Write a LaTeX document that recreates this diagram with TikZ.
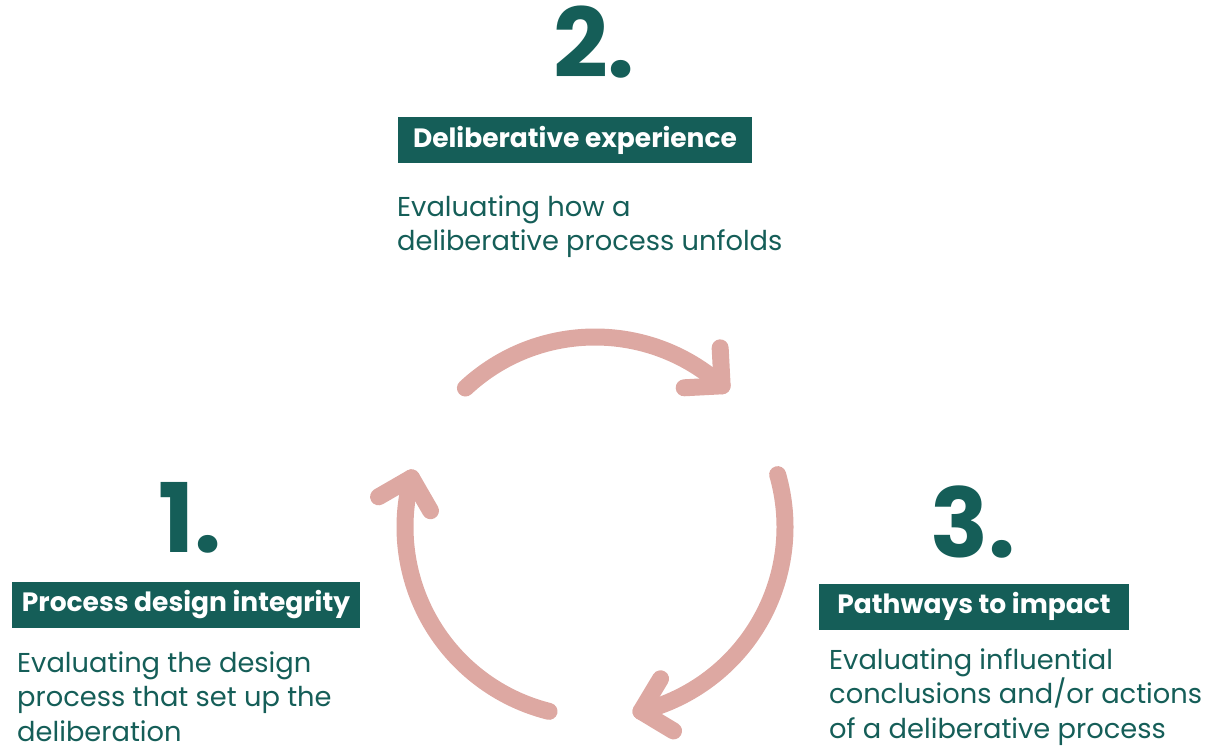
\documentclass[tikz,border=0pt]{standalone}
\usepackage{fontspec}
\setmainfont{Poppins}
\usetikzlibrary{calc}
\definecolor{dteal}{HTML}{155E58}
\definecolor{apink}{HTML}{DDA8A2}
\begin{document}
\begin{tikzpicture}[x=1pt,y=1pt,
  num/.style={font=\fontsize{96}{96}\selectfont\bfseries, text=dteal, anchor=base, inner sep=0pt},
  lbl/.style={fill=dteal, text=white, font=\fontsize{26.5}{30}\selectfont\bfseries, inner sep=0pt, minimum height=46pt},
  desc/.style={text=dteal, font=\fontsize{27.3}{34.5}\selectfont, align=left, anchor=base west, inner sep=0pt},
  cyc/.style={draw=apink, line width=17pt, line cap=round, line join=round}]
\useasboundingbox (0,0) rectangle (1207,750);
% step 2
\node[num] (n2) at (594,672) {2.};
\node[lbl, minimum width=354pt] (l2) at (575,610) {Deliberative experience};
\node[desc] (d2) at (397,499) {Evaluating how a\\deliberative process unfolds};
% step 1
\node[num] (n1) at (190,197) {1.};
\node[lbl, minimum width=348pt] (l1) at (186,145.5) {Process design integrity};
\node[desc] (d1) at (17,9) {Evaluating the design\\process that set up the\\deliberation};
% step 3
\node[num] (n3) at (973,192) {3.};
\node[lbl, minimum width=310pt] (l3) at (974,143.5) {Pathways to impact};
\node[desc] (d3) at (829,12) {Evaluating influential\\conclusions and/or actions\\of a deliberative process};
% cycle arrows
\coordinate (c) at (595,223);
\def\R{190}
\def\L{38}
\coordinate (as) at ($(c)+(133:\R)$);
\coordinate (ae) at ($(c)+(48:\R)$);
\coordinate (bs) at ($(c)+(16:\R)$);
\coordinate (be) at ($(c)+(-76:\R)$);
\coordinate (cs) at ($(c)+(256:\R)$);
\coordinate (ce) at ($(c)+(165:\R)$);
\draw[cyc] (as) arc[start angle=133, end angle=48, radius=\R];
\draw[cyc] ($(ae)+(93:\L)$) -- (ae) -- ($(ae)+(183:\L)$);
\draw[cyc] (bs) arc[start angle=16, end angle=-76, radius=\R];
\draw[cyc] ($(be)+(-31:\L)$) -- (be) -- ($(be)+(59:\L)$);
\draw[cyc] (cs) arc[start angle=256, end angle=165, radius=\R];
\draw[cyc] ($(ce)+(210:\L)$) -- (ce) -- ($(ce)+(300:\L)$);
\end{tikzpicture}
\end{document}
